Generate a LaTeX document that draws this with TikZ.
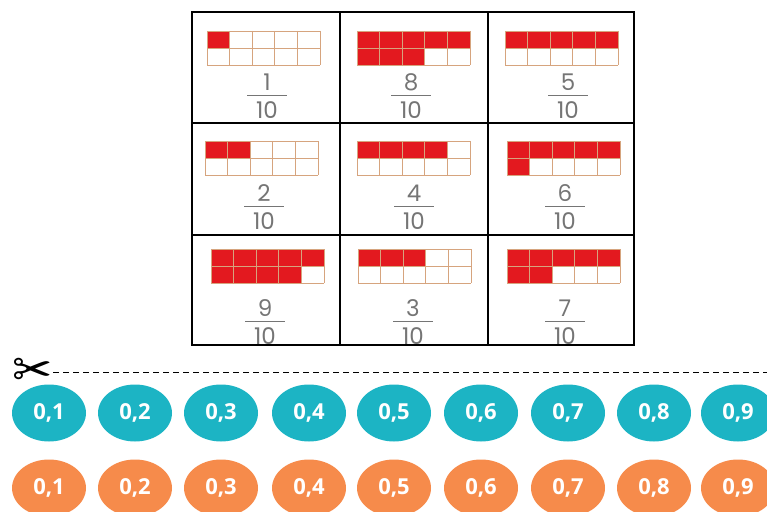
\documentclass[tikz,border=0pt]{standalone}
\usepackage{fontspec}
\setmainfont{Open Sans}
\newfontfamily\fracfont{Poppins}
\newfontfamily\symfont{DejaVu Sans}
\usetikzlibrary{shapes.geometric}
\definecolor{cardred}{HTML}{E3191F}
\definecolor{gridtan}{HTML}{D6A47E}
\definecolor{chipteal}{HTML}{1CB4C4}
\definecolor{chiporange}{HTML}{F68B4B}
\definecolor{fracgray}{HTML}{757575}

\begin{document}
\begin{tikzpicture}[x=1pt,y=-1pt,
  chip/.style={ellipse,minimum width=74pt,minimum height=57pt,inner sep=0pt,
    text=white,font=\fontsize{22}{22}\selectfont\bfseries},
  frac/.style={text=fracgray,inner sep=0pt,font=\fracfont\fontsize{23}{23}\selectfont}]
  \useasboundingbox (0,0) rectangle (767,511);
  % table of cards
  \draw[line width=1.3pt] (192,12) rectangle (634,345);
  \draw[line width=1.3pt] (340,12) -- (340,345) (488,12) -- (488,345);
  \draw[line width=1.3pt] (192,123) -- (634,123) (192,235) -- (634,235);
  \foreach \gx/\gy/\fx/\fy/\n in {%
    207/31/267/82/1, 357/31/411/82/8, 505/31/568/82/5,
    205/141/264/193/2, 357/141/414/193/4, 507/141/565/193/6,
    211/249/265/308/9, 358/249/413/308/3, 507/249/565/308/7}
  {
    \begin{scope}[shift={(\gx,\gy)}]
      \foreach \k in {1,...,\n} {
        \pgfmathtruncatemacro\col{mod(\k-1,5)}
        \pgfmathtruncatemacro\row{(\k-1)/5}
        \fill[cardred] (\col*22.6,\row*17) rectangle ++(22.6,17);
      }
      \foreach \c in {0,...,5}
        \draw[gridtan,line width=0.8pt] (\c*22.6,0) -- (\c*22.6,34);
      \foreach \r in {0,1,2}
        \draw[gridtan,line width=0.8pt] (0,\r*17) -- (113,\r*17);
    \end{scope}
    \node[frac] (num\n) at (\fx,\fy) {\n};
    \node[frac] (den\n) at (\fx,\fy+28) {10};
    \draw[fracgray,line width=1pt] (\fx-20,\fy+13) -- (\fx+20,\fy+13);
  }
  % cut line
  \node[font=\symfont\fontsize{48}{48}\selectfont,inner sep=0pt] (scissors) at (33,372) {✂};
  \coordinate (cutend) at (767,372);
  \draw[dash pattern=on 6pt off 4pt,line width=0.9pt] (scissors.east) -- (cutend);
  % chips
  \foreach \i/\cx in {1/49,2/135,3/221,4/309,5/394,6/481,7/568,8/654,9/738}
  {
    \node[chip,fill=chipteal] (teal\i) at (\cx,413) {0,\i};
    \node[chip,fill=chiporange] (orange\i) at (\cx,488) {0,\i};
  }
\end{tikzpicture}
\end{document}
